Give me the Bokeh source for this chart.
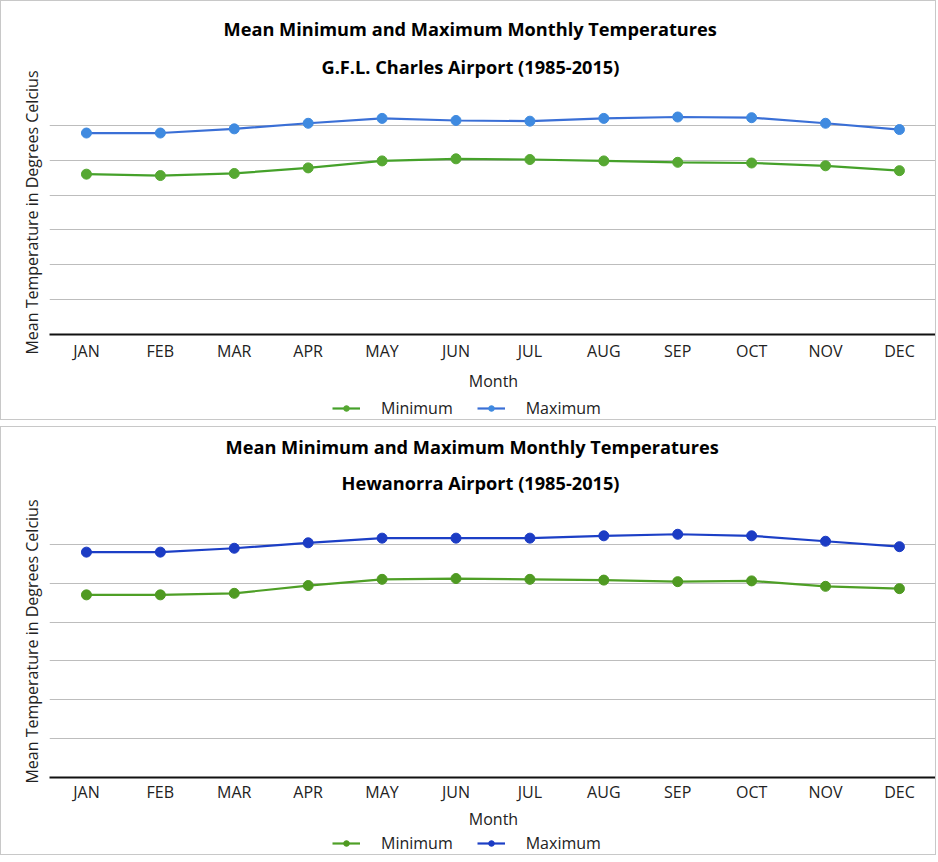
from bokeh.plotting import figure
from bokeh.layouts import column
from bokeh.models import Range1d, FixedTicker, Title, Legend, LegendItem, Grid
from bokeh.embed import file_html
from bokeh.resources import INLINE

# ---------------- data ----------------
months = ["JAN", "FEB", "MAR", "APR", "MAY", "JUN", "JUL", "AUG", "SEP", "OCT", "NOV", "DEC"]
month_pos = [1, 2, 3, 4, 5, 6, 7, 8, 9, 10, 11, 12]

gfl_min = [23.0, 22.8, 23.1, 23.9, 24.9, 25.2, 25.1, 24.9, 24.7, 24.6, 24.2, 23.5]
gfl_max = [28.9, 28.9, 29.5, 30.3, 31.0, 30.7, 30.6, 31.0, 31.2, 31.1, 30.3, 29.4]

hew_min = [23.5, 23.5, 23.7, 24.7, 25.5, 25.6, 25.5, 25.4, 25.2, 25.3, 24.6, 24.3]
hew_max = [29.0, 29.0, 29.5, 30.2, 30.8, 30.8, 30.8, 31.1, 31.3, 31.1, 30.4, 29.7]

grid_values = [5, 10, 15, 20, 25, 30]
top_grid_value = [35]

title_line1 = "Mean Minimum and Maximum Monthly Temperatures"
title_gfl = "G.F.L. Charles Airport (1985-2015)"
title_hew = "Hewanorra Airport  (1985-2015)"
x_label = "Month"
y_label = "Mean Temperature in Degrees Celcius"
series_names = ["Minimum", "Maximum"]

FONT = "Open Sans"
BORDER = "1px solid #c8c8c8"


def make_panel(subtitle, mins, maxs, min_color, max_color, min_mcolor, max_mcolor,
               height, top_border, bottom_border, t1_offset, t2_offset, t1_standoff,
               t2_standoff, tick_standoff, label_standoff):
    p = figure(width=936, height=height, output_backend="svg", toolbar_location=None,
               x_range=Range1d(0.5, 12.515), y_range=Range1d(0, 35),
               min_border_left=48, min_border_right=0,
               min_border_top=top_border, min_border_bottom=bottom_border,
               title=title_line1,
               styles={"border": BORDER, "border-bottom": "none"})
    p.background_fill_color = "white"
    p.border_fill_color = "white"
    p.outline_line_color = None

    # main title (outermost) and station subtitle (next to the frame)
    p.title.text_font = FONT
    p.title.text_font_size = "18.2px"
    p.title.text_font_style = "bold"
    p.title.text_color = "#000000"
    p.title.align = "left"
    p.title.offset = t1_offset
    p.title.standoff = t1_standoff
    t2 = Title(text=subtitle, align="left", offset=t2_offset, text_font=FONT,
               text_font_size="18.2px", text_font_style="bold", text_color="#000000",
               standoff=t2_standoff)
    p.add_layout(t2, "above")

    # x axis
    xa = p.xaxis[0]
    xa.ticker = FixedTicker(ticks=month_pos)
    xa.major_label_overrides = {m: lab for m, lab in zip(month_pos, months)}
    xa.major_tick_line_color = None
    xa.minor_tick_line_color = None
    xa.major_tick_out = 0
    xa.major_tick_in = 0
    xa.minor_tick_out = 0
    xa.axis_line_color = "#111111"
    xa.axis_line_width = 2
    xa.major_label_text_font = FONT
    xa.major_label_text_font_size = "16px"
    xa.major_label_text_color = "#222222"
    xa.major_label_standoff = tick_standoff
    xa.axis_label = x_label
    xa.axis_label_text_font = FONT
    xa.axis_label_text_font_size = "16px"
    xa.axis_label_text_font_style = "normal"
    xa.axis_label_text_color = "#222222"
    xa.axis_label_standoff = label_standoff

    # y axis: label only, no tick labels
    ya = p.yaxis[0]
    ya.ticker = FixedTicker(ticks=[])
    ya.major_tick_line_color = None
    ya.minor_tick_line_color = None
    ya.major_tick_out = 0
    ya.major_tick_in = 0
    ya.minor_tick_out = 0
    ya.axis_line_color = None
    ya.axis_label = y_label
    ya.axis_label_text_font = FONT
    ya.axis_label_text_font_size = "16px"
    ya.axis_label_text_font_style = "normal"
    ya.axis_label_text_color = "#222222"
    ya.axis_label_standoff = 7

    p.xgrid.grid_line_color = None
    p.ygrid.ticker = FixedTicker(ticks=grid_values)
    p.ygrid.grid_line_color = "#bdbdbd"
    p.ygrid.grid_line_width = 1
    p.add_layout(Grid(dimension=1, ticker=FixedTicker(ticks=top_grid_value),
                      grid_line_color="#dcdcdc", grid_line_width=1))

    # series
    p.line(month_pos, mins, line_color=min_color, line_width=2.2)
    p.scatter(month_pos, mins, marker="circle", size=10,
              fill_color=min_mcolor, line_color=min_mcolor)
    p.line(month_pos, maxs, line_color=max_color, line_width=2.2)
    p.scatter(month_pos, maxs, marker="circle", size=10,
              fill_color=max_mcolor, line_color=max_mcolor)

    # legend strip under the chart; its key renderers carry the same series,
    # but this strip's y range lies outside the data so only the legend shows
    lf = figure(width=936, height=22, output_backend="svg", toolbar_location=None,
                x_range=Range1d(0.5, 12.515), y_range=Range1d(-101, -100),
                x_axis_location=None, y_axis_location=None,
                min_border=0, min_border_left=0, min_border_right=0,
                min_border_top=0, min_border_bottom=0,
                styles={"border": BORDER, "border-top": "none"})
    lf.outline_line_color = None
    lf.background_fill_color = "white"
    lf.border_fill_color = "white"
    lf.grid.visible = False
    k_min_l = lf.line(month_pos, mins, line_color=min_color, line_width=2.2)
    k_min_s = lf.scatter(month_pos, mins, marker="circle", fill_color=min_mcolor,
                         line_color=min_mcolor)
    k_max_l = lf.line(month_pos, maxs, line_color=max_color, line_width=2.2)
    k_max_s = lf.scatter(month_pos, maxs, marker="circle", fill_color=max_mcolor,
                         line_color=max_mcolor)
    legend = Legend(items=[LegendItem(label=series_names[0], renderers=[k_min_l, k_min_s]),
                           LegendItem(label=series_names[1], renderers=[k_max_l, k_max_s])],
                    orientation="horizontal", location=(283, 1),
                    border_line_color=None, background_fill_alpha=0,
                    label_text_font=FONT, label_text_font_size="16px",
                    label_text_color="#222222", label_height=20,
                    glyph_width=28, glyph_height=14, label_standoff=21, spacing=24,
                    padding=0, margin=0)
    lf.add_layout(legend, "center")
    return column(p, lf, spacing=0)


panel1 = make_panel(title_gfl, gfl_min, gfl_max, "#45a12a", "#3a6fd6", "#56a832", "#3f8ae0",
                    height=398, top_border=89, bottom_border=65,
                    t1_offset=174, t2_offset=272, t1_standoff=0, t2_standoff=24,
                    tick_standoff=5, label_standoff=5)
panel2 = make_panel(title_hew, hew_min, hew_max, "#4e9f26", "#1c3fc6", "#4f9a22", "#1c3cc4",
                    height=407, top_border=78, bottom_border=57,
                    t1_offset=176, t2_offset=292, t1_standoff=0, t2_standoff=21,
                    tick_standoff=3, label_standoff=2)

layout = column(panel1, panel2, spacing=6)

open("out.html", "w").write(file_html(layout, INLINE))
